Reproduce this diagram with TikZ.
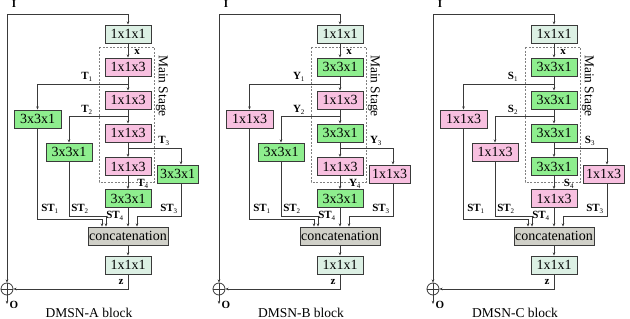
\documentclass[tikz,border=0pt]{standalone}
\usepackage{fontspec}
\setmainfont{Liberation Serif}
\usetikzlibrary{arrows.meta}
\definecolor{mint}{HTML}{DCF0E4}
\definecolor{pinkc}{HTML}{F8C0E0}
\definecolor{greenc}{HTML}{8EEE8E}
\definecolor{concatc}{HTML}{D0D0C8}
\definecolor{linec}{HTML}{3A3A3A}
\def\pktext{1x1x3}
\def\grtext{3x3x1}
\tikzset{
  box/.style={draw=linec, line width=0.9pt, minimum width=46pt, minimum height=18pt, inner sep=0pt, font=\fontsize{14}{14}\selectfont},
  pk/.style={box, fill=pinkc},
  gr/.style={box, fill=greenc},
  mt/.style={box, fill=mint},
  catbox/.style={box, fill=concatc, minimum width=80pt},
  conn/.style={draw=linec, line width=0.8pt, -{Stealth[length=3.2pt,width=2.6pt]}},
  plain/.style={draw=linec, line width=0.8pt},
  lbl/.style={font=\fontsize{11}{11}\selectfont\bfseries, inner sep=0pt},
  stagebox/.style={draw=gray, line width=0.8pt, dash pattern=on 2pt off 1.5pt},
  sumnode/.style={circle, draw=linec, line width=0.8pt, minimum size=12pt, inner sep=0pt},
  caption/.style={font=\fontsize{13.5}{13.5}\selectfont, inner sep=0pt},
}
\newcommand\sub[2]{#1\textsubscript{\normalfont\scriptsize #2}}
\newcommand\dmsn[9]{%
  \coordinate (i0) at (7,14);
  \node[lbl] (ilbl) at (14,4) {I};
  \node[mt] (top) at (128,34) {1x1x1};
  \draw[stagebox] (99,47) rectangle (154,182);
  \node[rotate=-90, caption] (ms) at (162,86) {Main Stage};
  \node[#2] (m1) at (128,67) {\csname #2text\endcsname};
  \node[#3] (m2) at (128,100) {\csname #3text\endcsname};
  \node[#4] (m3) at (128,133) {\csname #4text\endcsname};
  \node[#5] (m4) at (128,166.5) {\csname #5text\endcsname};
  \node[#6, minimum width=47pt] (l1) at (37.5,119) {\csname #6text\endcsname};
  \node[#7] (l2) at (69,152) {\csname #7text\endcsname};
  \node[#8, minimum width=41pt] (r) at (177.5,174) {\csname #8text\endcsname};
  \node[#9] (m5) at (128,198.5) {\csname #9text\endcsname};
  \node[catbox] (cat) at (128,236) {concatenation};
  \node[mt] (bot) at (128,265) {1x1x1};
  \node[sumnode] (sum) at (7,289) {};
  \draw[plain] (sum.north) -- (sum.south) (sum.west) -- (sum.east);
  \coordinate (o) at (7,304);
  % connectors
  \draw[conn] (i0) -- (sum);
  \draw[conn] (i0) -| (top);
  \draw[conn] (top) -- (m1);
  \draw[conn] (m1) -- (m2);
  \draw[conn] (m2) -- (m3);
  \draw[conn] (m3) -- (m4);
  \draw[conn] (m4) -- (m5);
  \coordinate (b1) at (128,84);
  \coordinate (b2) at (128,116);
  \coordinate (b3) at (128,148);
  \coordinate (r3) at (181,148);
  \draw[conn] (b1) -| (l1);
  \draw[conn] (b2) -| (l2);
  \draw[conn] (b3) -- (r3) -- (r3 |- r.north);
  \coordinate (c1) at (102,219);
  \coordinate (c2) at (106,216);
  \coordinate (c3) at (137,216);
  \coordinate (c3r) at (181,216);
  \draw[conn] (l1) |- (c1) -- (c1 |- cat.north);
  \draw[conn] (l2) |- (c2) -- (c2 |- cat.north);
  \draw[conn] (m5) -- (cat);
  \draw[conn] (r3 |- r.south) -- (c3r) -- (c3) -- (c3 |- cat.north);
  \draw[conn] (cat) -- (bot);
  \draw[conn] (bot) |- (sum);
  \draw[conn] (sum) -- (o);
  % labels
  \node[lbl] (xl) at (137,52) {x};
  \node[lbl] (t1) at (87,77) {\sub{#1}{1}};
  \node[lbl] (t2) at (87,110) {\sub{#1}{2}};
  \node[lbl] (t3) at (164,141) {\sub{#1}{3}};
  \node[lbl] (t4) at (143,184) {\sub{#1}{4}};
  \node[lbl] (st1) at (50,209) {\sub{ST}{1}};
  \node[lbl] (st2) at (80,209) {\sub{ST}{2}};
  \node[lbl] (st4) at (115,216) {\sub{ST}{4}};
  \node[lbl] (st3) at (169,209) {\sub{ST}{3}};
  \node[lbl] (zl) at (121,282) {z};
  \node[lbl] (ol) at (14,305) {O};
}
\begin{document}
\begin{tikzpicture}[x=1pt, y=-1pt]
  \useasboundingbox (0,0) rectangle (630,319);
  \begin{scope}[name prefix=a-]
    \dmsn{T}{pk}{pk}{pk}{pk}{gr}{gr}{gr}{gr}
    \node[caption] (cap) at (89,313) {DMSN-A block};
  \end{scope}
  \begin{scope}[xshift=212pt, name prefix=b-]
    \dmsn{Y}{gr}{pk}{gr}{pk}{pk}{gr}{pk}{gr}
    \node[caption] (cap) at (89,313) {DMSN-B block};
  \end{scope}
  \begin{scope}[xshift=426pt, name prefix=c-]
    \dmsn{S}{gr}{gr}{gr}{gr}{pk}{pk}{pk}{pk}
    \node[caption] (cap) at (89,313) {DMSN-C block};
  \end{scope}
\end{tikzpicture}
\end{document}
